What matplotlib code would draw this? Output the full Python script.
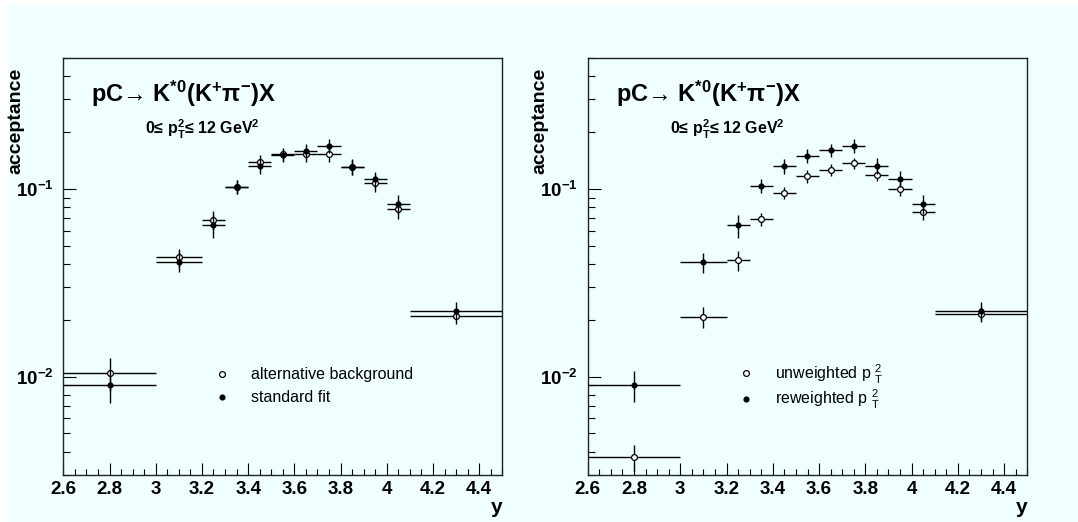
import numpy as np
import matplotlib
matplotlib.use("Agg")
import matplotlib.pyplot as plt
from matplotlib.lines import Line2D
from matplotlib.patches import Rectangle
from matplotlib.ticker import (MultipleLocator, FixedLocator, FixedFormatter,
                               NullFormatter, LogLocator, FormatStrFormatter)

plt.rcParams["font.family"] = ["Liberation Sans", "DejaVu Sans"]
plt.rcParams["mathtext.fontset"] = "custom"
plt.rcParams["mathtext.rm"] = "Liberation Sans:bold"
plt.rcParams["mathtext.it"] = "Liberation Sans:bold"
plt.rcParams["mathtext.bf"] = "Liberation Sans:bold"

# bins in rapidity y
bin_edges = [2.6, 3.0, 3.2, 3.3, 3.4, 3.5, 3.6, 3.7, 3.8, 3.9, 4.0, 4.1, 4.5]

# left: background variation
alt_bg = [0.0105, 0.0432, 0.0684, 0.1028, 0.1397, 0.153, 0.153, 0.1535, 0.1314, 0.1072, 0.0785, 0.0211]
alt_bg_err = [0.0021, 0.005, 0.008, 0.009, 0.012, 0.012, 0.013, 0.014, 0.012, 0.011, 0.009, 0.002]
std_fit = [0.00904, 0.0410, 0.0640, 0.1028, 0.132, 0.151, 0.160, 0.170, 0.1314, 0.1125, 0.0832, 0.0225]
std_fit_err = [0.0018, 0.005, 0.009, 0.009, 0.012, 0.012, 0.013, 0.014, 0.013, 0.011, 0.010, 0.0025]

# right: pT^2 weighting
unweighted = [0.00374, 0.0208, 0.0418, 0.0689, 0.0955, 0.1172, 0.126, 0.1369, 0.119, 0.100, 0.0751, 0.0216]
unweighted_err = [0.0006, 0.0026, 0.005, 0.0055, 0.0075, 0.009, 0.009, 0.009, 0.009, 0.008, 0.007, 0.002]
reweighted = [0.00908, 0.0408, 0.0640, 0.1037, 0.132, 0.1503, 0.1606, 0.170, 0.133, 0.113, 0.0832, 0.0225]
reweighted_err = [0.0017, 0.005, 0.009, 0.009, 0.012, 0.012, 0.013, 0.014, 0.013, 0.011, 0.010, 0.0025]

ytick_vals = [0.01, 0.1]
ytick_labels = [r"$\mathregular{10^{-2}}$", r"$\mathregular{10^{-1}}$"]

legend_left = ["alternative background", "standard fit"]
legend_right = [r"unweighted p $\mathregular{_{T}^{2}}$", r"reweighted p $\mathregular{_{T}^{2}}$"]

title = r"pC→ K$\mathregular{^{*0}}$(K$\mathregular{^{+}}$π$\mathregular{^{-}}$)X"
subtitle = r"0≤ p$\mathregular{_{T}^{2}}$≤ 12 GeV$\mathregular{^{2}}$"

edges = np.array(bin_edges)
centers = 0.5 * (edges[1:] + edges[:-1])
halfw = 0.5 * (edges[1:] - edges[:-1])

bg = "#f0ffff"

fig = plt.figure(figsize=(10.78, 5.22), dpi=100)
fig.patch.set_facecolor("white")
fig.patches.append(Rectangle((8 / 1078, 0), 1, 517 / 522, transform=fig.transFigure,
                             facecolor=bg, edgecolor="none", zorder=-10))

ax1 = fig.add_axes([63.3 / 1078, 47 / 522, 439 / 1078, 417.3 / 522])
ax2 = fig.add_axes([587.7 / 1078, 47 / 522, 439.6 / 1078, 417.3 / 522])


def draw_panel(ax, oy, oe, fy, fe, labels, leg_y, leg_space):
    ax.set_facecolor(bg)
    ax.errorbar(centers, oy, xerr=halfw, yerr=oe, fmt="o", ms=4.2, mfc="white",
                mec="k", mew=0.9, ecolor="k", elinewidth=1.0, capsize=0, zorder=3)
    ax.errorbar(centers, fy, xerr=halfw, yerr=fe, fmt="o", ms=3.4, mfc="k",
                mec="k", ecolor="k", elinewidth=1.0, capsize=0, zorder=4)
    ax.set_yscale("log")
    ax.set_xlim(2.6, 4.5)
    ax.set_ylim(0.003, 0.5)

    ax.xaxis.set_major_locator(MultipleLocator(0.2))
    ax.xaxis.set_minor_locator(MultipleLocator(0.05))
    ax.xaxis.set_major_formatter(FormatStrFormatter("%g"))
    ax.yaxis.set_major_locator(FixedLocator(ytick_vals))
    ax.yaxis.set_major_formatter(FixedFormatter(ytick_labels))
    ax.yaxis.set_minor_locator(LogLocator(base=10, subs=np.arange(2, 10), numticks=20))
    ax.yaxis.set_minor_formatter(NullFormatter())

    ax.tick_params(which="both", direction="in", top=False, right=False,
                   labelsize=13.5, color="k", width=0.8)
    ax.tick_params(axis="x", which="major", length=8.6, pad=4)
    ax.tick_params(axis="x", which="minor", length=4.3)
    ax.tick_params(axis="y", which="major", length=9.4, pad=7)
    ax.tick_params(axis="y", which="minor", length=5)
    for lab in ax.get_xticklabels() + ax.get_yticklabels():
        lab.set_fontweight("bold")
    for sp in ax.spines.values():
        sp.set_color("#222222")
        sp.set_linewidth(1.0)

    ax.text(-0.108, 0.975, "acceptance", rotation=90, ha="center", va="top",
            transform=ax.transAxes, fontsize=14, fontweight="bold")
    ax.text(1.0, -0.091, "y", ha="right", va="baseline", transform=ax.transAxes,
            fontsize=15, fontweight="bold")

    ax.text(0.064, 0.8946, title, transform=ax.transAxes, fontsize=17,
            fontweight="bold", va="baseline")
    ax.text(0.187, 0.817, subtitle, transform=ax.transAxes, fontsize=11.5,
            fontweight="bold", va="baseline")

    handles = [Line2D([], [], ls="none", marker="o", ms=4.2, mfc="white", mec="k", mew=0.9),
               Line2D([], [], ls="none", marker="o", ms=3.4, mfc="k", mec="k")]
    ax.legend(handles, labels, loc="upper left", bbox_to_anchor=(0.343, leg_y),
              frameon=False, fontsize=11.5, handlelength=1.0, handletextpad=1.3,
              borderpad=0, borderaxespad=0, labelspacing=leg_space)


draw_panel(ax1, alt_bg, alt_bg_err, std_fit, std_fit_err, legend_left, 0.258, 0.5)
draw_panel(ax2, unweighted, unweighted_err, reweighted, reweighted_err, legend_right, 0.27, 0.15)

fig.savefig("out.png", dpi=100, facecolor=fig.get_facecolor())
